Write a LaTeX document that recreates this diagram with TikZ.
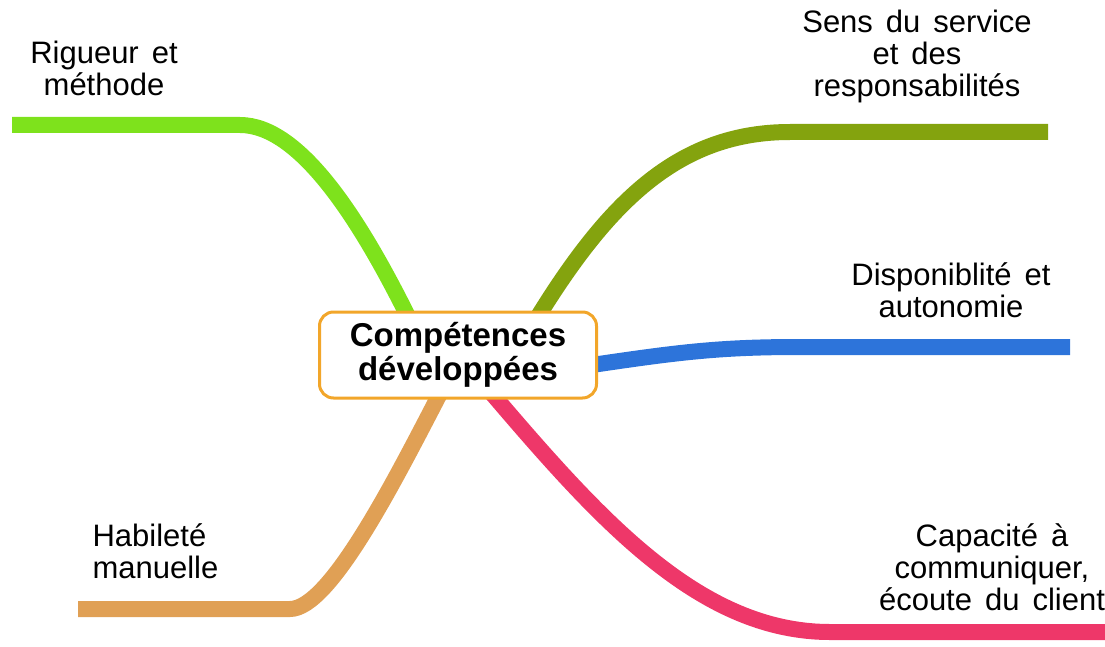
\documentclass[tikz,border=0pt]{standalone}
\usepackage{fontspec}
\setmainfont{Liberation Sans}
\usetikzlibrary{backgrounds}
\definecolor{brlime}{RGB}{126,226,28}
\definecolor{brolive}{RGB}{132,163,14}
\definecolor{brblue}{RGB}{45,116,218}
\definecolor{brpink}{RGB}{238,55,105}
\definecolor{brtan}{RGB}{224,160,85}
\definecolor{coreorange}{RGB}{242,166,42}
\begin{document}
\begin{tikzpicture}[x=1pt,y=-1pt,
  branch/.style={line width=16pt},
  leaf/.style={align=center,font={\fontsize{31}{32}\selectfont\spaceskip=.42em\relax}},
  core/.style={draw=coreorange,line width=3pt,rounded corners=14pt,fill=white,
    minimum width=277pt,minimum height=86pt,align=center,
    font={\fontsize{33}{34}\selectfont\bfseries}}]
\useasboundingbox (0,0) rectangle (1105,647);
\node[core] (core) at (458,355) {Compétences\\développées};
\node[leaf] (rigueur) at (104,68) {Rigueur et\\méthode};
\node[leaf] (sens) at (917,56) {Sens du service\\et des\\responsabilités};
\node[leaf] (dispo) at (951,290) {Disponiblité et\\autonomie};
\node[leaf,align=left,anchor=west] (habilete) at (89,551) {Habileté\\manuelle};
\node[leaf] (capacite) at (992,567) {Capacité à\\communiquer,\\écoute du client};
\coordinate (rigueur-end) at (12,125);
\coordinate (sens-end) at (1048,132);
\coordinate (dispo-end) at (1070,347);
\coordinate (habilete-end) at (78,609);
\coordinate (capacite-end) at (1105,632);
\begin{scope}[on background layer]
\draw[branch,brlime] ([xshift=-50pt,yshift=-6pt]core.north) .. controls (360,220) and (300,125) .. (240,125) -- (rigueur-end);
\draw[branch,brolive] ([xshift=80pt,yshift=-6pt]core.north) .. controls (610,200) and (680,132) .. (790,132) -- (sens-end);
\draw[branch,brblue] ([xshift=-6pt,yshift=-10pt]core.east) .. controls (680,352) and (720,347) .. (800,347) -- (dispo-end);
\draw[branch,brpink] ([xshift=34pt,yshift=6pt]core.south) .. controls (600,520) and (700,632) .. (830,632) -- (capacite-end);
\draw[branch,brtan] ([xshift=-18pt,yshift=6pt]core.south) .. controls (395,480) and (330,609) .. (290,609) -- (habilete-end);
\end{scope}
\end{tikzpicture}
\end{document}
